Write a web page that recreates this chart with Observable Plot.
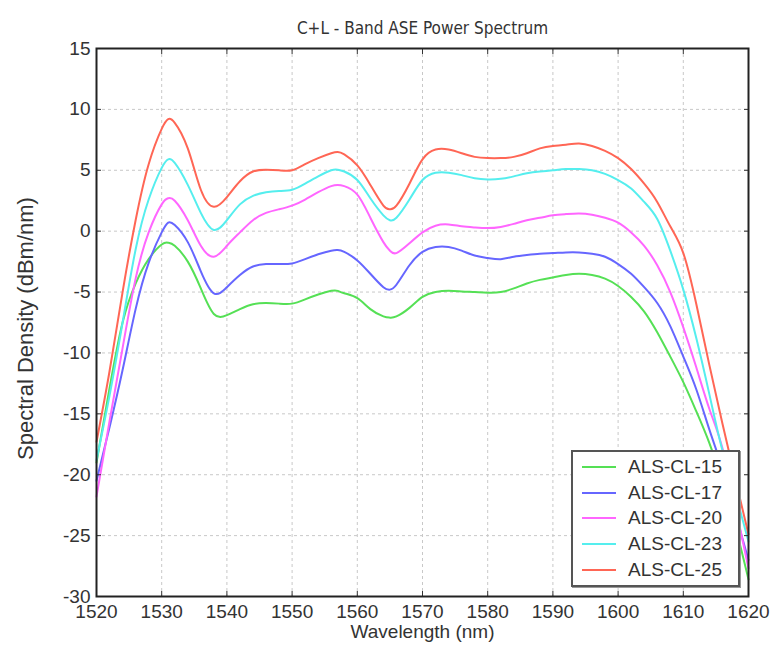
<!DOCTYPE html>
<html>
<head>
<meta charset="utf-8">
<script src="https://cdn.jsdelivr.net/npm/d3@7"></script>
<script src="https://cdn.jsdelivr.net/npm/@observablehq/plot@0.6"></script>
<style>
  html, body { margin: 0; padding: 0; background: #fff; }
  #wrap { position: relative; width: 784px; height: 649px; font-family: "Liberation Sans", Arial, sans-serif; }
  #legend { position: absolute; left: 571px; top: 450px; width: 169px; height: 137px; box-sizing: border-box;
            border: 2px solid #555; background: #fff; box-shadow: 1px 1px 0 #999; padding-top: 2px; }
  .row { height: 25.8px; display: flex; align-items: center; }
  .sw { width: 34px; height: 0; border-top: 2px solid; margin-left: 9px; margin-right: 12px; }
  .lab { font-size: 19px; color: #333; white-space: nowrap; }
</style>
</head>
<body>
<div id="wrap"></div>
<script>
const titleText = "C+L - Band ASE Power Spectrum";
const xLabel = "Wavelength (nm)";
const yLabel = "Spectral Density (dBm/nm)";
const seriesNames = ["ALS-CL-15", "ALS-CL-17", "ALS-CL-20", "ALS-CL-23", "ALS-CL-25"];
const seriesColors = ["#55e055", "#6666ff", "#ff66ff", "#55eeee", "#ff6655"];
const xTicks = [1520, 1530, 1540, 1550, 1560, 1570, 1580, 1590, 1600, 1610, 1620];
const yTicks = [-30, -25, -20, -15, -10, -5, 0, 5, 10, 15];

const wavelengths = [1520, 1522, 1524, 1526, 1528, 1530, 1531, 1532, 1534, 1536, 1538, 1540, 1542, 1544, 1546, 1548, 1550, 1552, 1554, 1556, 1557, 1558, 1560, 1562, 1564, 1565, 1566, 1568, 1570, 1572, 1574, 1576, 1578, 1580, 1582, 1584, 1586, 1588, 1590, 1592, 1594, 1596, 1598, 1600, 1602, 1604, 1606, 1608, 1610, 1612, 1614, 1616, 1618, 1620];

const cl15 = [-19.0, -12.9, -7.5, -4.3, -2.3, -1.1, -0.95, -1.2, -2.5, -4.7, -6.8, -6.9, -6.4, -6.0, -5.9, -5.95, -5.95, -5.6, -5.2, -4.9, -4.9, -5.1, -5.5, -6.4, -7.0, -7.1, -7.0, -6.3, -5.4, -5.0, -4.9, -4.95, -5.0, -5.05, -5.0, -4.7, -4.3, -4.0, -3.8, -3.6, -3.5, -3.6, -3.9, -4.5, -5.4, -6.6, -8.3, -10.3, -12.4, -14.8, -17.4, -20.6, -24.3, -28.6];
const cl17 = [-20.5, -16.1, -11.4, -6.4, -2.6, -0.1, 0.7, 0.5, -0.9, -3.3, -5.1, -4.6, -3.6, -2.9, -2.7, -2.7, -2.65, -2.3, -1.9, -1.6, -1.55, -1.7, -2.4, -3.5, -4.6, -4.8, -4.4, -2.8, -1.7, -1.3, -1.3, -1.6, -2.0, -2.2, -2.3, -2.1, -1.95, -1.85, -1.8, -1.75, -1.75, -1.85, -2.1, -2.7, -3.5, -4.6, -5.9, -7.8, -10.3, -13.0, -16.3, -19.5, -23.2, -27.0];
const cl20 = [-21.8, -15.6, -9.6, -3.9, -0.1, 2.2, 2.7, 2.5, 0.9, -1.2, -2.1, -1.2, -0.1, 0.9, 1.5, 1.8, 2.1, 2.6, 3.2, 3.7, 3.8, 3.7, 3.0, 1.1, -0.9, -1.6, -1.8, -1.0, -0.1, 0.45, 0.55, 0.4, 0.3, 0.25, 0.35, 0.6, 0.9, 1.1, 1.3, 1.4, 1.45, 1.35, 1.1, 0.7, -0.1, -1.2, -2.8, -5.0, -7.9, -11.2, -14.6, -17.8, -22.6, -27.7];
const cl23 = [-18.8, -13.5, -7.5, -1.5, 2.6, 5.2, 5.9, 5.6, 3.8, 1.5, 0.1, 0.9, 2.2, 2.9, 3.2, 3.3, 3.4, 3.9, 4.5, 5.0, 5.05, 4.9, 4.2, 2.7, 1.3, 0.9, 1.1, 2.6, 4.2, 4.8, 4.8, 4.6, 4.35, 4.25, 4.3, 4.5, 4.75, 4.9, 5.0, 5.1, 5.1, 5.0, 4.7, 4.2, 3.5, 2.4, 1.0, -1.6, -4.8, -8.8, -13.4, -18.0, -21.6, -25.5];
const cl25 = [-17.3, -11.5, -5.0, 0.9, 5.5, 8.4, 9.2, 8.9, 6.8, 3.4, 2.0, 2.8, 4.1, 4.9, 5.05, 5.0, 5.0, 5.5, 6.0, 6.4, 6.5, 6.3, 5.4, 3.8, 2.1, 1.8, 2.1, 3.9, 5.9, 6.7, 6.7, 6.4, 6.1, 6.0, 6.0, 6.1, 6.4, 6.8, 7.0, 7.1, 7.2, 7.0, 6.6, 6.0, 5.1, 3.9, 2.4, 0.4, -1.8, -6.0, -11.0, -15.8, -20.4, -24.9];

const seriesValues = [cl15, cl17, cl20, cl23, cl25];
const table = [];
seriesNames.forEach((name, k) => {
  wavelengths.forEach((w, i) => table.push({ w, v: seriesValues[k][i], s: name }));
});

const fmt = d => String(d);

const chart = Plot.plot({
  width: 784,
  height: 649,
  marginLeft: 96,
  marginRight: 36,
  marginTop: 48,
  marginBottom: 53,
  style: { fontFamily: "'Liberation Sans', Arial, sans-serif", background: "#fff", color: "#333" },
  x: { domain: [1520, 1620] },
  y: { domain: [-30, 15] },
  color: { domain: seriesNames, range: seriesColors },
  marks: [
    Plot.gridX(xTicks, { stroke: "#c8c8c8", strokeOpacity: 1, strokeDasharray: "3,3" }),
    Plot.gridY(yTicks, { stroke: "#c8c8c8", strokeOpacity: 1, strokeDasharray: "3,3" }),
    Plot.line(table, { x: "w", y: "v", z: "s", stroke: "s", strokeWidth: 2, curve: "natural" }),
    Plot.axisX(xTicks, { anchor: "bottom", tickSize: -5, tickPadding: 13, fontSize: 19, tickFormat: fmt, label: null, stroke: "#333" }),
    Plot.axisX(xTicks, { anchor: "top", tickSize: -5, tickFormat: () => "", label: null, stroke: "#333" }),
    Plot.axisY(yTicks, { anchor: "left", tickSize: -5, tickPadding: 11, fontSize: 19, tickFormat: fmt, label: null, stroke: "#333" }),
    Plot.axisY(yTicks, { anchor: "right", tickSize: -5, tickFormat: () => "", label: null, stroke: "#333" }),
    Plot.frame({ stroke: "#222", strokeWidth: 2 }),
    Plot.text([titleText], { frameAnchor: "top", dy: -27, fontSize: 17, fill: "#333", fontFamily: "'Liberation Sans Narrow', 'DejaVu Sans Condensed', sans-serif" }),
    Plot.text([xLabel], { frameAnchor: "bottom", dy: 41, fontSize: 19, fill: "#333" }),
    Plot.text([yLabel], { frameAnchor: "left", dx: -71, dy: 6, rotate: -90, fontSize: 22, fill: "#333", textAnchor: "middle" })
  ]
});

const wrap = document.getElementById("wrap");
wrap.appendChild(chart);

const legend = document.createElement("div");
legend.id = "legend";
seriesNames.forEach((name, k) => {
  const row = document.createElement("div");
  row.className = "row";
  const sw = document.createElement("div");
  sw.className = "sw";
  sw.style.borderTopColor = seriesColors[k];
  const lab = document.createElement("span");
  lab.className = "lab";
  lab.textContent = name;
  row.appendChild(sw);
  row.appendChild(lab);
  legend.appendChild(row);
});
wrap.appendChild(legend);
</script>
</body>
</html>
